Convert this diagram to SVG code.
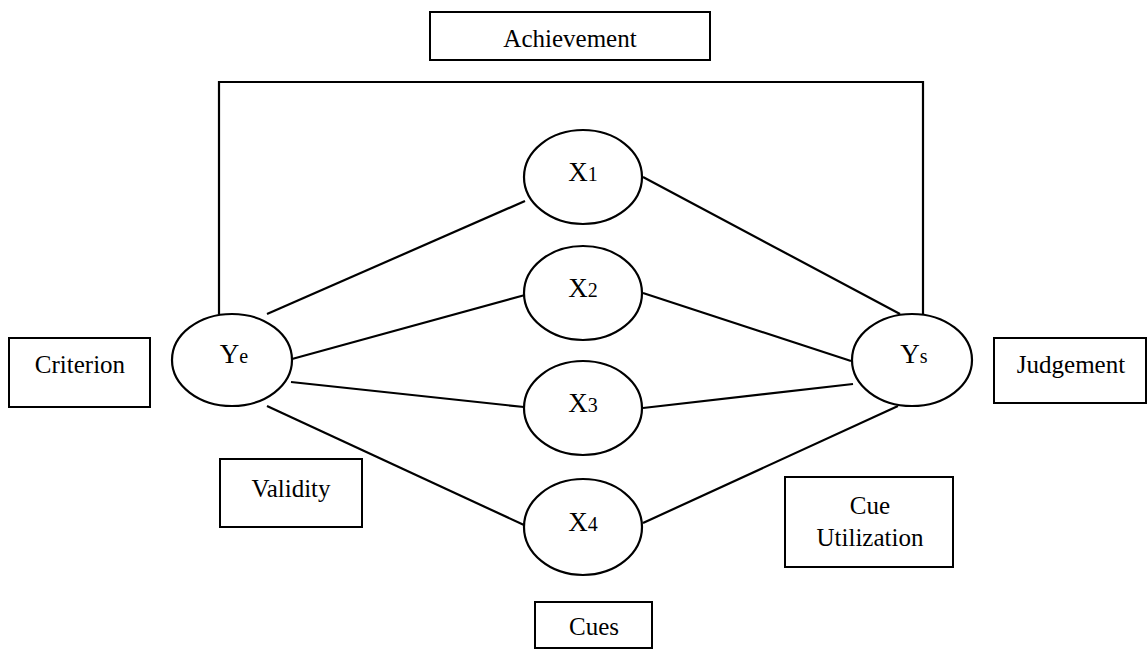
<svg xmlns="http://www.w3.org/2000/svg" width="1148" height="649" viewBox="0 0 1148 649">
<style>
.box{fill:#fff;stroke:#000;stroke-width:2}
.node{fill:#fff;stroke:#000;stroke-width:2.2}
.lbl{font-family:"Liberation Serif","Times New Roman",serif;font-size:25px;fill:#000;text-anchor:middle}
.var{font-family:"Liberation Serif","Times New Roman",serif;font-size:27px;fill:#000;text-anchor:middle}
.sub{font-size:20px}
.conn{fill:none;stroke:#000;stroke-width:2.2}
</style>
<rect width="1148" height="649" fill="#fff"/>
<g id="connectors">
<polyline class="conn" points="219,314 219,82 923,82 923,314"/>
<line class="conn" x1="267" y1="314" x2="525" y2="201"/>
<line class="conn" x1="292" y1="359" x2="525" y2="295"/>
<line class="conn" x1="291" y1="382" x2="524" y2="407"/>
<line class="conn" x1="267" y1="406" x2="524" y2="525"/>
<line class="conn" x1="643" y1="177" x2="900" y2="314"/>
<line class="conn" x1="643" y1="293" x2="851" y2="361"/>
<line class="conn" x1="643" y1="408" x2="853" y2="384"/>
<line class="conn" x1="643" y1="523" x2="898" y2="406"/>
</g>
<g id="achievement"><rect class="box" x="430" y="12" width="280" height="48"/><text class="lbl" x="570" y="47">Achievement</text></g>
<g id="criterion"><rect class="box" x="9" y="338" width="141" height="69"/><text class="lbl" x="80" y="373">Criterion</text></g>
<g id="judgement"><rect class="box" x="994" y="338" width="152" height="65"/><text class="lbl" x="1071" y="373">Judgement</text></g>
<g id="validity"><rect class="box" x="220" y="459" width="142" height="68"/><text class="lbl" x="291" y="497">Validity</text></g>
<g id="cue-utilization"><rect class="box" x="785" y="477" width="168" height="90"/><text class="lbl" x="870" y="514">Cue</text><text class="lbl" x="870" y="546">Utilization</text></g>
<g id="cues"><rect class="box" x="535" y="602" width="117" height="46"/><text class="lbl" x="594" y="635">Cues</text></g>
<g id="Ye"><ellipse class="node" cx="232" cy="360" rx="60" ry="46"/><text class="var" x="234" y="363">Y<tspan class="sub">e</tspan></text></g>
<g id="Ys"><ellipse class="node" cx="912" cy="360" rx="60" ry="46"/><text class="var" x="914" y="363">Y<tspan class="sub">s</tspan></text></g>
<g id="X1"><ellipse class="node" cx="583" cy="177" rx="59" ry="47"/><text class="var" x="583" y="181">X<tspan class="sub">1</tspan></text></g>
<g id="X2"><ellipse class="node" cx="583" cy="293" rx="59" ry="47"/><text class="var" x="583" y="297">X<tspan class="sub">2</tspan></text></g>
<g id="X3"><ellipse class="node" cx="583" cy="408" rx="59" ry="47"/><text class="var" x="583" y="412">X<tspan class="sub">3</tspan></text></g>
<g id="X4"><ellipse class="node" cx="583" cy="527" rx="59" ry="48"/><text class="var" x="583" y="531">X<tspan class="sub">4</tspan></text></g>
</svg>
